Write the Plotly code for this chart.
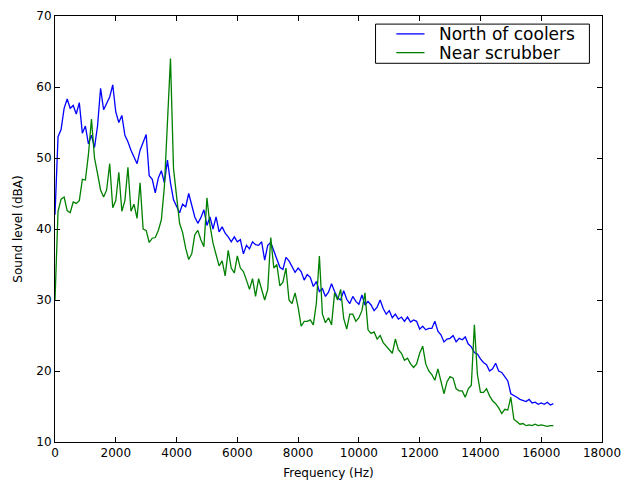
import numpy as np
import plotly.graph_objects as go

# Frequency grid (Hz), 100 Hz steps
freq = list(range(0, 16401, 100))

north_of_coolers = [
    42, 53, 54, 57, 58.3, 57, 57.4, 56.2, 57.8, 53.5,
    54.5, 52, 53.2, 51.5, 54.5, 59.8, 56.8, 57.6, 58.6, 60.3,
    56.5, 55, 56, 53.2, 52.3, 51.1, 50.1, 49.2, 51.1, 52.3,
    53.3, 47.5, 47, 45.1, 47.2, 48.2, 46.5, 49.7, 46.5, 44.1,
    43.2, 42.3, 43.5, 43.1, 45, 43.2, 41.7, 40.8, 41.6, 42.7,
    40.5, 41.7, 40, 41.7, 39.6, 40.3, 39.4, 38.9, 38.2, 38.9,
    38.2, 38.5, 36.5, 37.7, 37.2, 38.2, 37.8, 37.7, 38.2, 35.6,
    37.7, 38.1, 37.0, 35.8, 34.6, 34.3, 36.0, 35.5, 34.8, 33.9,
    34.5, 34.0, 32.8, 33.6, 33.2, 31.9, 32.6, 31.2, 31.6, 30.5,
    31.1, 32.3, 31.2, 30.3, 30.0, 31.3, 30.1, 29.5, 30.5, 29.8,
    29.4, 30.7, 29.3, 29.8, 29.3, 28.5, 29.0, 30.0, 28.8, 28.0,
    28.5, 27.5, 28.0, 27.3, 27.6, 27.0, 27.6, 26.9, 27.2, 27.0,
    25.9, 26.3, 25.8, 26.0, 26.0, 27.0, 25.6, 25.1, 24.1, 24.5,
    24.6, 25.0, 24.1, 24.6, 24.4, 24.8, 23.8, 23.4, 22.6, 22.4,
    21.7, 21.2, 20.9, 20.0, 20.3, 21.1, 20.0, 19.8, 19.2, 18.6,
    16.8, 16.6, 16.3, 16.0, 15.8, 15.7, 16.0, 15.5, 15.6, 15.3,
    15.5, 15.3, 15.6, 15.2, 15.4,
]

near_scrubber = [
    30, 42.5, 44.2, 44.5, 42.6, 42.3, 43.8, 43.6, 44.0, 47.0,
    46.9, 50.5, 55.5, 50.0, 47.8, 45.5, 44.5, 45.5, 49.2, 43.0,
    44.0, 48.0, 42.5, 44.0, 48.7, 42.5, 43.5, 41.5, 46.5, 40.0,
    39.8, 38.1, 38.7, 38.8, 39.8, 41.3, 46.0, 55.0, 64.0, 48.5,
    45.0, 40.8, 39.5, 37.3, 35.7, 36.5, 39.2, 39.8, 38.5, 37.5,
    44.4, 40.5, 38.0, 36.2, 34.8, 35.5, 33.4, 37.0, 34.5, 33.8,
    36.2, 34.5, 34.0, 32.8, 31.5, 33.0, 30.5, 33.0, 31.5, 30.0,
    31.5, 38.8, 34.5, 35.0, 32.0, 32.5, 34.5, 30.0, 29.5, 31.0,
    29.0, 26.3, 27.0, 27.0, 27.2, 26.5, 29.5, 36.2, 28.0, 26.8,
    27.5, 26.5, 31.0, 30.0, 31.5, 27.4, 25.9, 28.0, 28.0, 27.0,
    27.5, 28.5, 31.0, 25.8, 25.3, 25.5, 24.5, 25.0, 24.0, 23.5,
    23.0, 22.5, 24.5, 23.0, 22.5, 21.5, 21.8, 21.0, 20.5, 21.0,
    22.5, 23.5, 21.0, 20.0, 19.5, 18.7, 20.3, 18.4, 16.8, 18.5,
    19.2, 19.0, 17.5, 17.2, 17.2, 16.3, 17.5, 18.0, 26.5, 19.5,
    17.0, 17.0, 17.5, 16.5, 15.8, 15.4, 14.8, 14.0, 14.6, 14.5,
    16.3, 13.2, 12.8, 12.5, 12.6, 12.3, 12.4, 12.3, 12.5, 12.3,
    12.4, 12.3, 12.2, 12.3, 12.3,
]

series_names = ["North of coolers", "Near scrubber"]
series_colors = ["#0000ff", "#008000"]

x_ticks = [0, 2000, 4000, 6000, 8000, 10000, 12000, 14000, 16000, 18000]
y_ticks = [10, 20, 30, 40, 50, 60, 70]

font_family = "DejaVu Sans"

fig = go.Figure()
for name, vals, col in zip(series_names, [north_of_coolers, near_scrubber], series_colors):
    fig.add_trace(go.Scatter(x=freq, y=vals, mode="lines", name=name,
                             line=dict(color=col, width=1.3)))

axis_common = dict(
    showgrid=False, zeroline=False, showline=True, linecolor="black",
    linewidth=1, mirror="ticks", ticks="inside", ticklen=5,
    tickcolor="black", tickwidth=1, automargin=False,
    tickfont=dict(family=font_family, size=12, color="black"),
)

fig.update_xaxes(range=[0, 18000], tickvals=x_ticks,
                 ticktext=[str(v) for v in x_ticks],
                 title=dict(text="Frequency (Hz)", standoff=9,
                            font=dict(family=font_family, size=12, color="black")),
                 **axis_common)
fig.update_yaxes(range=[10, 70], tickvals=y_ticks,
                 ticktext=[str(v) for v in y_ticks],
                 title=dict(text="Sound level (dBA)", standoff=11,
                            font=dict(family=font_family, size=12, color="black")),
                 **axis_common)

# Legend drawn as a framed box (matplotlib-like compact layout)
box_x0, box_x1, box_y0, box_y1 = 0.586, 0.977, 0.889, 0.981
line_x0, line_x1, text_x = 0.624, 0.6755, 0.6975
row_y = [0.958, 0.914]
shapes = [dict(type="rect", xref="paper", yref="paper",
               x0=box_x0, x1=box_x1, y0=box_y0, y1=box_y1,
               line=dict(color="black", width=1), fillcolor="white", layer="above")]
annotations = []
for name, col, yy in zip(series_names, series_colors, row_y):
    shapes.append(dict(type="line", xref="paper", yref="paper",
                       x0=line_x0, x1=line_x1, y0=yy, y1=yy,
                       line=dict(color=col, width=1.3), layer="above"))
    annotations.append(dict(xref="paper", yref="paper", x=text_x, y=yy,
                            xanchor="left", yanchor="middle", text=name,
                            showarrow=False,
                            font=dict(family=font_family, size=17, color="black")))

fig.update_layout(
    template="none",
    width=626, height=483,
    margin=dict(l=55, r=24, t=16, b=41, pad=0),
    paper_bgcolor="white", plot_bgcolor="white",
    font=dict(family=font_family, color="black"),
    showlegend=False,
    shapes=shapes,
    annotations=annotations,
)

fig.write_html("out.html")
